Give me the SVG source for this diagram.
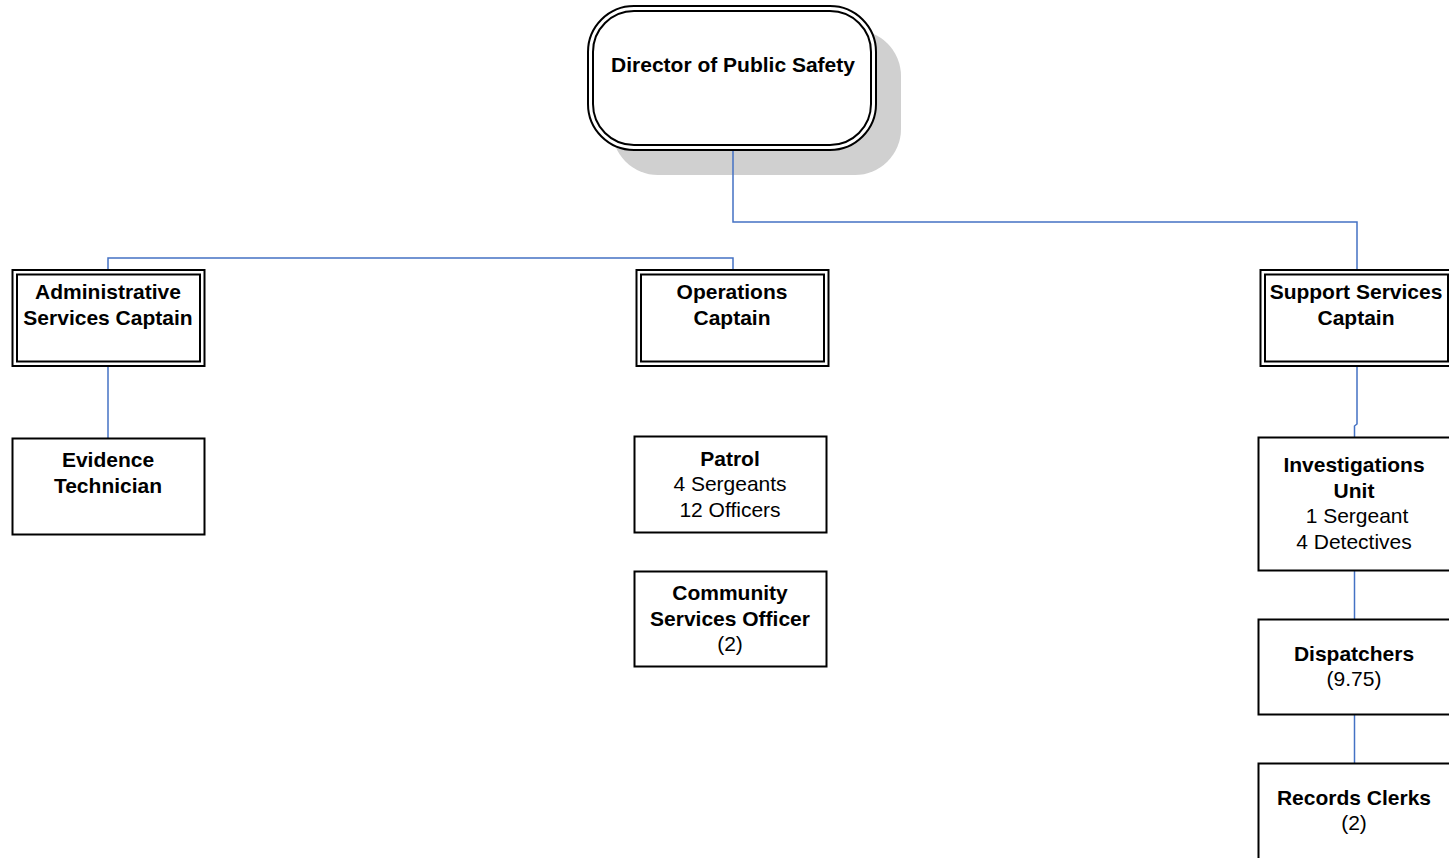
<svg xmlns="http://www.w3.org/2000/svg" width="1449" height="858" viewBox="0 0 1449 858">
  <style>
    .box { fill: #ffffff; stroke: #000000; stroke-width: 2; }
    .inner { fill: none; stroke: #000000; stroke-width: 2; }
    .t { font-family: "Liberation Sans", Arial, sans-serif; font-size: 21px; fill: #000000; text-anchor: middle; }
    .b { font-weight: bold; }
    .conn { fill: none; stroke: #4472C4; stroke-width: 1.5; }
  </style>
  <rect width="1449" height="858" fill="#ffffff"/>

  <g id="director">
    <rect x="612" y="30" width="289" height="145" rx="46" fill="#d0d0d0"/>
    <rect class="box" x="588" y="6" width="288" height="144" rx="46"/>
    <rect class="inner" x="593" y="11" width="278" height="134" rx="41"/>
    <text class="t b" x="733" y="72">Director of Public Safety</text>
  </g>

  <!-- reporting lines, drawn over the director's drop shadow -->
  <g id="connectors">
    <polyline class="conn" points="733,151 733,222 1357,222 1357,270"/>
    <polyline class="conn" points="108,270 108,258 733,258 733,270"/>
    <line class="conn" x1="108" y1="367" x2="108" y2="438"/>
    <polyline class="conn" points="1357,367 1357,424 1354.5,426 1354.5,437"/>
    <line class="conn" x1="1354.5" y1="571" x2="1354.5" y2="619"/>
    <line class="conn" x1="1354.5" y1="715" x2="1354.5" y2="763"/>
  </g>

  <g id="admin-captain">
    <rect class="box" x="12.5" y="270" width="192" height="96"/>
    <rect class="inner" x="17" y="274.5" width="183" height="87"/>
    <text class="t b" x="108" y="299">Administrative</text>
    <text class="t b" x="108" y="325">Services Captain</text>
  </g>

  <g id="operations-captain">
    <rect class="box" x="636.5" y="270" width="192" height="96"/>
    <rect class="inner" x="641" y="274.5" width="183" height="87"/>
    <text class="t b" x="732" y="299">Operations</text>
    <text class="t b" x="732" y="325">Captain</text>
  </g>

  <g id="support-captain">
    <rect class="box" x="1260.5" y="270" width="192" height="96"/>
    <rect class="inner" x="1265" y="274.5" width="183" height="87"/>
    <text class="t b" x="1356" y="299">Support Services</text>
    <text class="t b" x="1356" y="325">Captain</text>
  </g>

  <g id="evidence-technician">
    <rect class="box" x="12.5" y="438.5" width="192" height="96"/>
    <text class="t b" x="108" y="467">Evidence</text>
    <text class="t b" x="108" y="493">Technician</text>
  </g>

  <g id="patrol">
    <rect class="box" x="634.5" y="436.5" width="192" height="96"/>
    <text class="t b" x="730" y="466">Patrol</text>
    <text class="t" x="730" y="491">4 Sergeants</text>
    <text class="t" x="730" y="517">12 Officers</text>
  </g>

  <g id="community-services">
    <rect class="box" x="634.5" y="571.5" width="192" height="95"/>
    <text class="t b" x="730" y="600">Community</text>
    <text class="t b" x="730" y="626">Services Officer</text>
    <text class="t" x="730" y="651">(2)</text>
  </g>

  <g id="investigations">
    <rect class="box" x="1258.5" y="437.5" width="192" height="133"/>
    <text class="t b" x="1354" y="472">Investigations</text>
    <text class="t b" x="1354" y="498">Unit</text>
    <text class="t" x="1357" y="523">1 Sergeant</text>
    <text class="t" x="1354" y="549">4 Detectives</text>
  </g>

  <g id="dispatchers">
    <rect class="box" x="1258.5" y="619.5" width="192" height="95"/>
    <text class="t b" x="1354" y="661">Dispatchers</text>
    <text class="t" x="1354" y="686">(9.75)</text>
  </g>

  <g id="records-clerks">
    <rect class="box" x="1258.5" y="763.5" width="192" height="96"/>
    <text class="t b" x="1354" y="805">Records Clerks</text>
    <text class="t" x="1354" y="830">(2)</text>
  </g>
</svg>
